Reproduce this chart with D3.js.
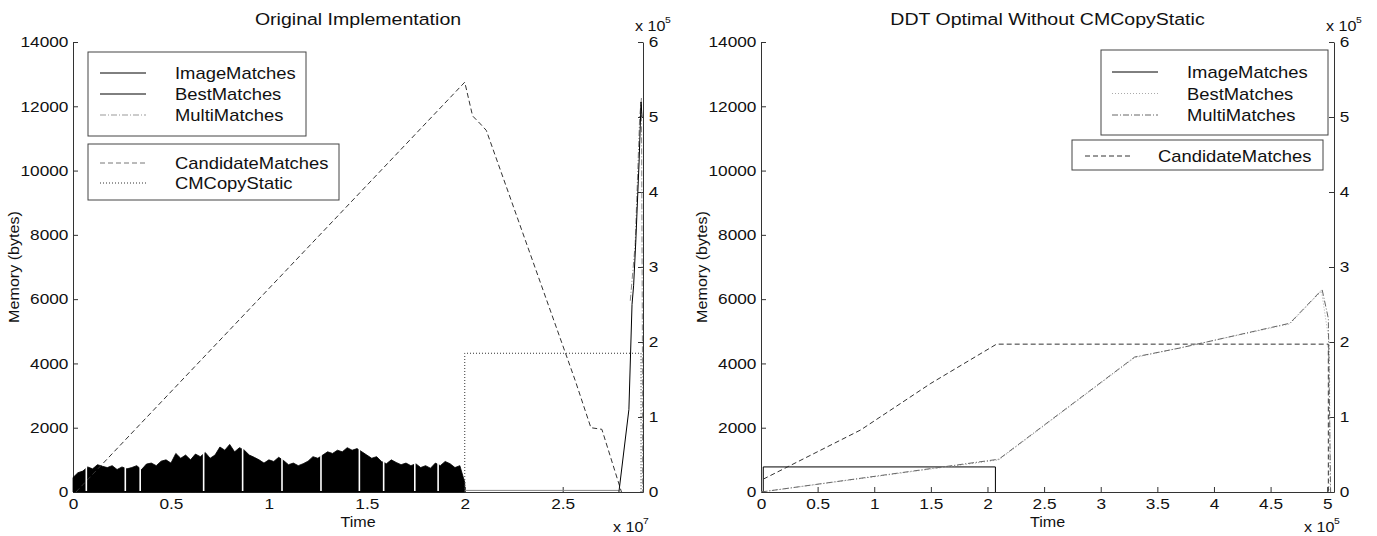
<!DOCTYPE html>
<html>
<head>
<meta charset="utf-8">
<script src="https://cdn.jsdelivr.net/npm/d3@7"></script>
<style>
  body { margin: 0; background: #fff; }
  text { font-family: "Liberation Sans", Arial, Helvetica, sans-serif; fill: #111; }
</style>
</head>
<body>
<svg id="chart" width="1377" height="536"></svg>
<script>
// ---- tick labels ----
var memTicks = [0, 2000, 4000, 6000, 8000, 10000, 12000, 14000];
var rightTicks = [0, 1, 2, 3, 4, 5, 6];
var timeTicksOrig = [0, 0.5, 1, 1.5, 2, 2.5];
var timeTicksDdt = [0, 0.5, 1, 1.5, 2, 2.5, 3, 3.5, 4, 4.5, 5];

// ---- Original Implementation (time x 1e7) ----
// ImageMatches peak envelope, bytes
var origImageNoise = [
  [0, 450], [0.025, 600], [0.05, 650], [0.075, 780], [0.1, 720], [0.125, 850], [0.15, 800], [0.175, 760],
  [0.2, 820], [0.225, 700], [0.25, 780], [0.275, 720], [0.3, 760], [0.325, 820], [0.35, 700], [0.375, 870],
  [0.4, 900], [0.425, 820], [0.45, 960], [0.475, 1000], [0.5, 900], [0.525, 1200], [0.55, 1050], [0.575, 1150],
  [0.6, 1000], [0.625, 1180], [0.65, 1100], [0.675, 1230], [0.7, 1050], [0.725, 1150], [0.75, 1400], [0.775, 1300],
  [0.8, 1480], [0.825, 1250], [0.85, 1380], [0.875, 1300], [0.9, 1150], [0.925, 1080], [0.95, 1000], [0.975, 900],
  [1.0, 1000], [1.025, 950], [1.05, 1080], [1.075, 980], [1.1, 850], [1.125, 900], [1.15, 820], [1.175, 880],
  [1.2, 960], [1.225, 1100], [1.25, 1050], [1.275, 1150], [1.3, 1250], [1.325, 1200], [1.35, 1300], [1.375, 1250],
  [1.4, 1380], [1.425, 1300], [1.45, 1350], [1.475, 1250], [1.5, 1150], [1.525, 1050], [1.55, 1100], [1.575, 950],
  [1.6, 880], [1.625, 1000], [1.65, 920], [1.675, 850], [1.7, 900], [1.725, 820], [1.75, 880], [1.775, 760],
  [1.8, 820], [1.825, 740], [1.85, 900], [1.875, 820], [1.9, 950], [1.925, 880], [1.95, 760], [1.975, 820],
  [2.0, 300]
];
var origImageGaps = [0.068, 0.267, 0.343, 0.667, 0.866, 1.067, 1.266, 1.462, 1.586, 1.745, 1.864];
var origImageTail = [[2.0, 50], [2.787, 50]];
// right axis, x 1e5
var origBest = [[2.787, 0], [2.838, 1.1], [2.854, 2.5], [2.862, 2.75], [2.873, 3.33], [2.89, 4.4], [2.9, 5.2], [2.905, 5.0]];
var origMulti = [[2.845, 2.55], [2.87, 3.3], [2.893, 5.0], [2.902, 5.25], [2.907, 2.0], [2.908, 0]];
var origCopy = [[2.0, 0], [2.0, 1.85], [2.9, 1.85], [2.9, 0]];
// left axis, bytes
var origCandidate = [[0.015, 0], [0.35, 2155], [2.0, 12750], [2.04, 11700], [2.08, 11450], [2.11, 11250],
  [2.565, 3450], [2.644, 2000], [2.70, 1950], [2.80, 0]];

// ---- DDT Optimal Without CMCopyStatic (time x 1e5), bytes ----
var ddtImage = [[0, 0], [0.02, 0], [0.02, 780], [2.07, 780], [2.07, 0]];
var ddtBest = [[0, 0], [2.1, 1000], [3.3, 4180], [4.67, 5230], [4.95, 6250], [5.02, 4600], [5.025, 0]];
var ddtMulti = [[0, 0], [2.1, 1020], [3.3, 4200], [3.7, 4480], [4.67, 5250], [4.955, 6300], [5.01, 5400], [5.03, 0]];
var ddtCandidate = [[0.02, 400], [0.88, 1930], [1.5, 3380], [2.08, 4600], [5.01, 4600], [5.01, 0]];

var SX = 1.15; // the picture is stretched sideways a little
var svg = d3.select('#chart');

var styles = {
  solid:   { stroke: '#000', dash: null },
  dotted:  { stroke: '#333', dash: '1,2' },
  dotLite: { stroke: '#aaa', dash: '1,2' },
  dashdot: { stroke: '#666', dash: '6,2,1,2' },
  dashed:  { stroke: '#333', dash: '5,3' }
};

function label(g, x, y, str, size, anchor) {
  return g.append('text')
    .attr('transform', 'translate(' + x + ',' + y + ') scale(' + SX + ',1)')
    .attr('text-anchor', anchor || 'start')
    .style('font-size', size + 'px')
    .text(str);
}

function power(g, x, y, exp) {
  label(g, x, y, 'x 10', 14, 'start');
  label(g, x + 30, y - 8, exp, 9, 'start');
}

function styleAxis(a) {
  a.attr('font-size', null).attr('font-family', null);
  a.selectAll('.domain, line').attr('stroke', '#333');
  a.selectAll('text').style('font-size', '15px')
    .attr('transform', 'scale(' + SX + ',1)');
}

function drawPanel(p) {
  var g = svg.append('g');
  var x = d3.scaleLinear().domain([0, p.xMax]).range([p.left, p.right]);
  var yL = d3.scaleLinear().domain([0, 14000]).range([492, 42]);
  var yR = d3.scaleLinear().domain([0, 6]).range([492, 42]);

  // axes
  var ax = g.append('g').attr('transform', 'translate(0,492)')
    .call(d3.axisBottom(x).tickValues(p.xTicks).tickSizeInner(-5).tickSizeOuter(0).tickPadding(6)
      .tickFormat(d3.format('')));
  styleAxis(ax);
  var al = g.append('g').attr('transform', 'translate(' + p.left + ',0)')
    .call(d3.axisLeft(yL).tickValues(memTicks).tickSizeInner(-5).tickSizeOuter(0).tickPadding(4)
      .tickFormat(d3.format('')));
  styleAxis(al);
  var ar = g.append('g').attr('transform', 'translate(' + p.right + ',0)')
    .call(d3.axisRight(yR).tickValues(rightTicks).tickSizeInner(-5).tickSizeOuter(0).tickPadding(5)
      .tickFormat(d3.format('d')));
  styleAxis(ar);

  // series
  p.series.forEach(function(s) {
    var yy = s.axis == 'right' ? yR : yL;
    if (s.area) {
      g.append('path').datum(s.data)
        .attr('fill', '#000')
        .attr('stroke', '#000').attr('stroke-width', 0.8)
        .attr('d', d3.area().x(function(d) { return x(d[0]); }).y0(yy(0)).y1(function(d) { return yy(d[1]); }));
      return;
    }
    var st = styles[s.style];
    g.append('path').datum(s.data)
      .attr('fill', 'none')
      .attr('stroke', s.color || st.stroke)
      .attr('stroke-width', 1)
      .attr('stroke-dasharray', st.dash)
      .attr('d', d3.line().x(function(d) { return x(d[0]); }).y(function(d) { return yy(d[1]); }));
  });
  if (p.gaps) {
    g.selectAll('.gap').data(p.gaps).enter().append('line')
      .attr('x1', function(d) { return x(d); }).attr('x2', function(d) { return x(d); })
      .attr('y1', yL(0) - 1).attr('y2', yL(1500))
      .attr('stroke', '#fff').attr('stroke-width', 1.6);
  }

  // legends
  p.legends.forEach(function(L) {
    g.append('rect').attr('x', L.x).attr('y', L.y).attr('width', L.w).attr('height', L.h)
      .attr('fill', '#fff').attr('stroke', '#444');
    L.items.forEach(function(it, i) {
      var st = styles[it.style];
      var yy = L.y + L.first + i * L.step;
      g.append('line').attr('x1', L.lx).attr('x2', L.lx + 46).attr('y1', yy).attr('y2', yy)
        .attr('stroke', it.color || st.stroke).attr('stroke-dasharray', st.dash);
      label(g, L.tx, yy + 6, it.name, 16, 'start');
    });
  });

  // titles and axis names
  var mid = (p.left + p.right) / 2;
  label(g, mid, 25, p.title, 17, 'middle');
  label(g, mid, 527, 'Time', 14, 'middle');
  g.append('text')
    .attr('transform', 'translate(' + (p.left - 54) + ',267) rotate(-90) scale(1.15,1.1)')
    .attr('text-anchor', 'middle').style('font-size', '14px').text('Memory (bytes)');
  power(g, p.right - 8, 31, '5');
  power(g, p.right - 30, 532, p.xExp);
}

drawPanel({
  left: 73, right: 643, xMax: 2.91, xTicks: timeTicksOrig, xExp: '7',
  title: 'Original Implementation',
  series: [
    { data: origImageNoise, area: true },
    { data: origImageTail, style: 'solid', color: '#888' },
    { data: origCopy, style: 'dotted', axis: 'right' },
    { data: origCandidate, style: 'dashed' },
    { data: origMulti, style: 'dashdot', axis: 'right', color: '#888' },
    { data: origBest, style: 'solid', axis: 'right' }
  ],
  gaps: origImageGaps,
  legends: [
    { x: 88, y: 52, w: 218, h: 84, lx: 100, tx: 175, first: 21, step: 21,
      items: [{ name: 'ImageMatches', style: 'solid' }, { name: 'BestMatches', style: 'solid' },
              { name: 'MultiMatches', style: 'dashdot', color: '#999' }] },
    { x: 88, y: 144, w: 251, h: 56, lx: 100, tx: 175, first: 19, step: 20,
      items: [{ name: 'CandidateMatches', style: 'dashed', color: '#777' }, { name: 'CMCopyStatic', style: 'dotted' }] }
  ]
});

drawPanel({
  left: 761, right: 1334, xMax: 5.06, xTicks: timeTicksDdt, xExp: '5',
  title: 'DDT Optimal Without CMCopyStatic',
  series: [
    { data: ddtImage, style: 'solid' },
    { data: ddtCandidate, style: 'dashed' },
    { data: ddtBest, style: 'dotLite' },
    { data: ddtMulti, style: 'dashdot' }
  ],
  legends: [
    { x: 1101, y: 50, w: 227, h: 85, lx: 1112, tx: 1187, first: 22, step: 21.5,
      items: [{ name: 'ImageMatches', style: 'solid' }, { name: 'BestMatches', style: 'dotLite' },
              { name: 'MultiMatches', style: 'dashdot' }] },
    { x: 1072, y: 140, w: 251, h: 30, lx: 1085, tx: 1158, first: 16, step: 20,
      items: [{ name: 'CandidateMatches', style: 'dashed' }] }
  ]
});
</script>
</body>
</html>
